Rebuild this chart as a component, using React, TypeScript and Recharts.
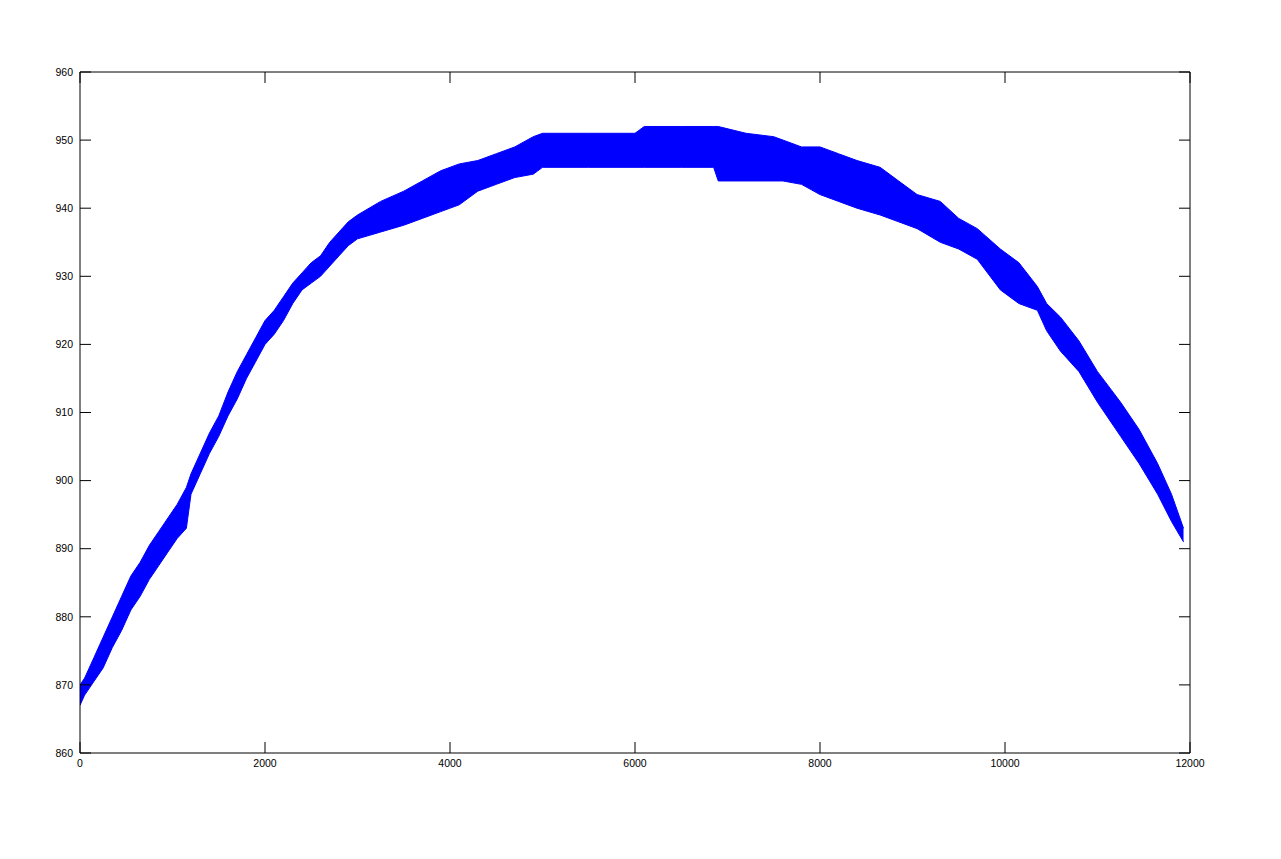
import React from 'react';
import { ComposedChart, Area, XAxis, YAxis } from 'recharts';

const xValues = [
  0, 50, 150, 250, 350, 450, 550, 650, 750, 850, 950, 1050, 1150, 1200, 1300,
  1400, 1500, 1600, 1700, 1800, 1900, 2000, 2100, 2200, 2300, 2400, 2500, 2600,
  2700, 2800, 2900, 3000, 3250, 3500, 3700, 3900, 4100, 4300, 4500, 4700, 4900,
  5000, 5500, 6000, 6100, 6500, 6850, 6900, 7200, 7500, 7600, 7800, 8000, 8200,
  8400, 8650, 8850, 9050, 9300, 9500, 9700, 9950, 10150, 10350, 10450, 10600,
  10800, 11000, 11250, 11450, 11650, 11800, 11930,
];
const lowValues = [
  867, 868.5, 870.5, 872.5, 875.5, 878, 881, 883, 885.5, 887.5, 889.5, 891.5, 893, 898, 901,
  904, 906.5, 909.5, 912, 915, 917.5, 920, 921.5, 923.5, 926, 928, 929, 930,
  931.5, 933, 934.5, 935.5, 936.5, 937.5, 938.5, 939.5, 940.5, 942.5, 943.5, 944.5, 945,
  946, 946, 946, 946, 946, 946, 944, 944, 944, 944, 943.5, 942, 941,
  940, 939, 938, 937, 935, 934, 932.5, 928, 926, 925, 922, 919,
  916, 911.5, 906.5, 902.5, 898, 894, 891,
];
const highValues = [
  870, 871, 874, 877, 880, 883, 886, 888, 890.5, 892.5, 894.5, 896.5, 899, 901, 904,
  907, 909.5, 913, 916, 918.5, 921, 923.5, 925, 927, 929, 930.5, 932, 933,
  935, 936.5, 938, 939, 941, 942.5, 944, 945.5, 946.5, 947, 948, 949, 950.5,
  951, 951, 951, 952, 952, 952, 952, 951, 950.5, 950, 949, 949, 948,
  947, 946, 944, 942, 941, 938.5, 937, 934, 932, 928.5, 926, 924,
  920.5, 916, 911.5, 907.5, 902.5, 898, 893,
];
const xTicks = [0, 2000, 4000, 6000, 8000, 10000, 12000];
const yTicks = [860, 870, 880, 890, 900, 910, 920, 930, 940, 950, 960];

const data = xValues.map((x, i) => ({ x, band: [lowValues[i], highValues[i]] }));

const tickStyle = { fill: '#000', fontSize: 10.5, fontFamily: 'Liberation Sans, Arial, sans-serif' };

export default function App() {
  return (
    <div style={{ width: 1265, height: 843, background: '#fff' }}>
      <ComposedChart
        width={1265}
        height={843}
        data={data}
        margin={{ top: 44, right: 63, bottom: 68, left: 32 }}
      >
        <XAxis
          dataKey="x"
          type="number"
          domain={[0, 12000]}
          ticks={xTicks}
          allowDataOverflow
          stroke="#000"
          tickSize={-11}
          tickMargin={18}
          height={30}
          tick={tickStyle}
          interval={0}
        />
        <XAxis
          xAxisId="top"
          orientation="top"
          dataKey="x"
          type="number"
          domain={[0, 12000]}
          ticks={xTicks}
          allowDataOverflow
          stroke="#000"
          tickSize={-11}
          height={20}
          tickFormatter={() => ''}
          interval={0}
        />
        <YAxis
          type="number"
          domain={[860, 960]}
          ticks={yTicks}
          allowDataOverflow
          stroke="#000"
          tickSize={-11}
          tickMargin={18}
          width={40}
          tick={tickStyle}
          interval={0}
        />
        <YAxis
          yAxisId="right"
          orientation="right"
          type="number"
          domain={[860, 960]}
          ticks={yTicks}
          allowDataOverflow
          stroke="#000"
          tickSize={-11}
          width={20}
          tickFormatter={() => ''}
          interval={0}
        />
        <Area
          type="linear"
          dataKey="band"
          stroke="#0000ff"
          strokeWidth={1}
          fill="#0000ff"
          fillOpacity={1}
          dot={false}
          activeDot={false}
          isAnimationActive={false}
        />
      </ComposedChart>
    </div>
  );
}
